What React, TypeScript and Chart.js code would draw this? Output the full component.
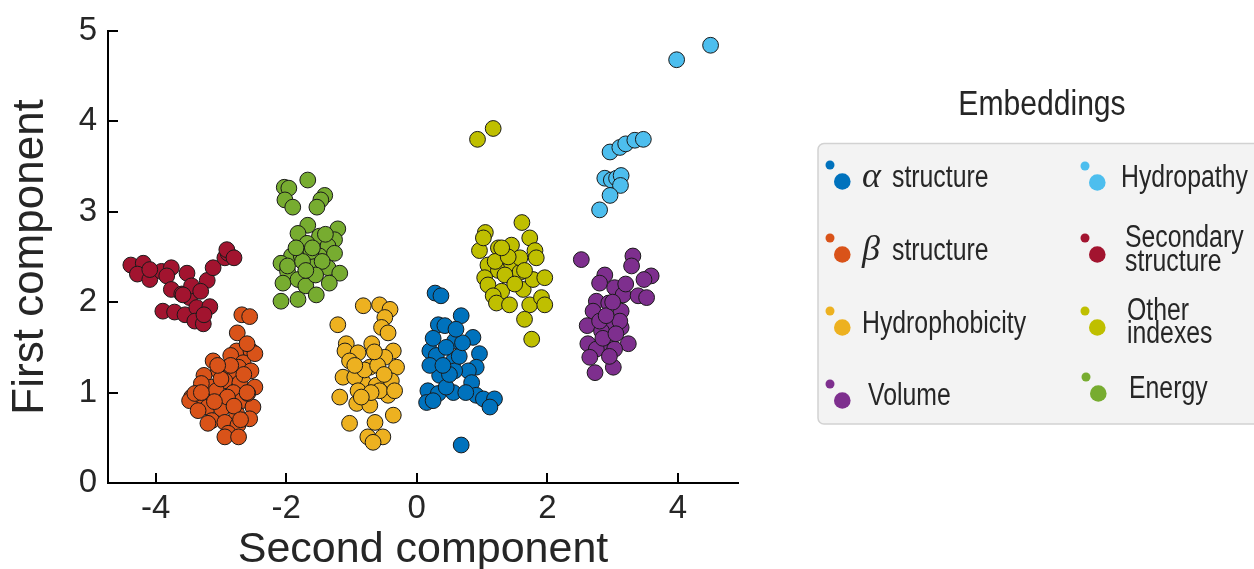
import React, { useEffect, useRef } from "react";
import { Chart, registerables } from "chart.js";

Chart.register(...registerables);

const AXIS_FONT = "'Liberation Sans', Arial, sans-serif";
const LEGEND_FONT = "'Liberation Sans', Arial, sans-serif";
const TEXT = "#262626";

const seriesNames = [
  "α structure",
  "β structure",
  "Hydrophobicity",
  "Volume",
  "Hydropathy",
  "Secondary structure",
  "Other indexes",
  "Energy",
];
const seriesColors = ["#0072BD", "#D95319", "#EDB120", "#7E2F8E", "#4DBEEE", "#A2142F", "#BFBF00", "#77AC30"];

const xTicks = [-4, -2, 0, 2, 4];
const yTicks = [0, 1, 2, 3, 4, 5];

const alphaX = [0.28, 0.37, 0.68, 0.33, 0.43, 0.58, 0.86, 0.2, 0.3, 0.56, 0.96, 0.91, 0.79, 0.35, 0.2, 0.58, 0.84, 0.17, 0.33, 0.56, 0.91, 0.15, 1.02, 1.19, 1.12, 0.45, 0.68, 0.25, 0.45, 0.65, 0.5, 0.7, 0.4, 0.75, 0.25, 0.6];
const alphaY = [2.1, 2.07, 1.85, 1.75, 1.74, 1.57, 1.61, 1.46, 1.41, 1.35, 1.43, 1.28, 1.24, 1.19, 1.3, 1.24, 1.11, 1.02, 0.99, 1.0, 0.97, 0.89, 0.93, 0.93, 0.84, 1.06, 0.42, 0.91, 1.5, 1.4, 1.2, 1.55, 1.3, 1.0, 1.6, 1.7];

const betaX = [-2.68, -2.56, -2.75, -2.76, -2.54, -2.85, -2.66, -2.48, -3.12, -3.04, -2.73, -2.54, -3.26, -2.84, -2.94, -3.14, -3.3, -2.71, -2.48, -2.81, -3.45, -3.48, -3.27, -3.07, -3.2, -2.94, -2.68, -2.51, -2.99, -2.76, -2.56, -3.14, -2.94, -2.74, -2.89, -2.94, -2.73, -3.35, -3.2, -3.4, -2.59, -2.6, -3.0, -2.85, -2.9, -3.1, -2.65, -2.8, -3.05, -2.6, -2.7, -3.3];
const betaY = [1.86, 1.84, 1.66, 1.46, 1.46, 1.41, 1.33, 1.43, 1.35, 1.24, 1.28, 1.24, 1.19, 1.21, 1.13, 1.06, 1.1, 1.11, 1.06, 1.0, 0.95, 0.91, 0.95, 1.02, 0.84, 0.91, 0.91, 0.84, 0.82, 0.77, 0.71, 0.69, 0.67, 0.64, 0.55, 0.51, 0.51, 0.8, 0.66, 0.99, 0.99, 1.54, 1.15, 1.3, 0.95, 0.9, 1.2, 0.85, 1.3, 1.0, 0.7, 1.0];

const hydrophobX = [-1.21, -0.82, -0.57, -0.41, -0.49, -0.54, -0.44, -1.08, -0.69, -0.36, -1.1, -0.9, -1.03, -0.72, -0.49, -0.31, -1.13, -0.82, -0.62, -0.39, -0.95, -1.18, -0.92, -0.72, -0.44, -0.57, -1.03, -0.64, -0.36, -0.75, -0.52, -0.67, -0.9, -0.34, -0.8, -0.6, -0.95, -0.7, -0.5, -0.85, -0.65];
const hydrophobY = [1.75, 1.96, 1.97, 1.92, 1.83, 1.72, 1.66, 1.54, 1.54, 1.46, 1.46, 1.44, 1.35, 1.28, 1.39, 1.28, 1.17, 1.11, 1.08, 1.13, 1.17, 0.95, 0.88, 0.86, 0.97, 1.02, 0.66, 0.67, 0.75, 0.51, 0.51, 0.45, 1.02, 1.02, 1.25, 1.3, 1.3, 1.0, 1.2, 0.95, 1.45];

const volumeX = [2.52, 3.31, 3.29, 3.59, 3.48, 2.88, 2.8, 3.03, 3.16, 3.39, 3.52, 2.75, 2.94, 2.7, 3.13, 2.61, 2.98, 3.13, 2.83, 3.24, 2.62, 2.9, 2.75, 3.03, 2.65, 3.01, 2.73, 3.11, 2.8, 2.9, 3.0, 2.85, 3.05, 2.95, 3.2];
const volumeY = [2.47, 2.51, 2.4, 2.29, 2.25, 2.3, 2.21, 2.16, 2.08, 2.07, 2.05, 2.01, 1.99, 1.9, 1.9, 1.74, 1.75, 1.72, 1.68, 1.54, 1.54, 1.55, 1.48, 1.48, 1.39, 1.28, 1.22, 1.79, 1.79, 1.85, 2.0, 1.6, 1.65, 1.4, 2.2];

const hydropathyX = [3.98, 4.5, 2.96, 3.11, 3.2, 3.34, 3.47, 2.88, 2.98, 3.06, 3.13, 3.12, 2.96, 2.8];
const hydropathyY = [4.68, 4.84, 3.66, 3.71, 3.75, 3.79, 3.8, 3.37, 3.35, 3.37, 3.4, 3.29, 3.18, 3.02];

const secondaryX = [-4.38, -4.19, -4.28, -4.09, -3.91, -3.76, -3.83, -3.52, -3.76, -3.6, -3.48, -3.45, -3.21, -3.12, -2.94, -2.89, -2.91, -3.89, -3.71, -3.55, -3.37, -3.17, -3.4, -3.27, -3.26, -3.58, -4.09, -3.31, -2.8];
const secondaryY = [2.41, 2.43, 2.31, 2.25, 2.34, 2.38, 2.29, 2.32, 2.14, 2.09, 2.05, 2.18, 2.24, 2.38, 2.49, 2.54, 2.58, 1.9, 1.89, 1.86, 1.94, 1.95, 1.79, 1.76, 1.86, 2.08, 2.36, 2.12, 2.49];

const otherX = [0.93, 1.17, 1.61, 1.73, 1.05, 0.96, 1.25, 1.45, 1.81, 1.09, 1.25, 1.45, 1.58, 1.83, 1.04, 1.09, 1.3, 1.63, 1.78, 1.96, 1.17, 1.22, 1.42, 1.73, 1.91, 1.96, 1.65, 1.76, 1.02, 1.58, 1.35, 1.5, 1.2, 1.4, 1.65, 1.3];
const otherY = [3.8, 3.92, 2.88, 2.71, 2.77, 2.57, 2.6, 2.63, 2.57, 2.41, 2.35, 2.43, 2.33, 2.49, 2.27, 2.19, 2.12, 2.14, 2.25, 2.27, 2.07, 1.99, 1.97, 1.97, 2.05, 1.97, 1.81, 1.59, 2.71, 2.49, 2.3, 2.2, 2.45, 2.5, 2.35, 2.6];

const energyX = [-2.03, -1.96, -1.67, -1.41, -1.47, -2.02, -1.9, -1.53, -1.21, -1.67, -1.82, -1.49, -1.26, -1.68, -1.36, -1.92, -2.08, -1.77, -1.49, -1.26, -1.62, -1.98, -1.36, -1.18, -2.05, -1.82, -1.7, -1.34, -2.08, -1.82, -1.54, -1.98, -1.62, -1.6, -1.75, -1.45, -1.55, -1.85, -1.4, -1.7];
const energyY = [3.27, 3.26, 3.35, 3.18, 3.13, 3.13, 3.05, 3.05, 2.81, 2.85, 2.76, 2.73, 2.69, 2.65, 2.62, 2.51, 2.43, 2.51, 2.51, 2.54, 2.4, 2.34, 2.38, 2.32, 2.21, 2.25, 2.18, 2.21, 2.01, 2.03, 2.08, 2.4, 2.56, 2.6, 2.45, 2.45, 2.3, 2.6, 2.75, 2.35];

const seriesX = [alphaX, betaX, hydrophobX, volumeX, hydropathyX, secondaryX, otherX, energyX];
const seriesY = [alphaY, betaY, hydrophobY, volumeY, hydropathyY, secondaryY, otherY, energyY];

// legend layout (positions only)
const legendLayout = [
  { s: 0, dx: 830, dy: 165, tx: 862, greek: "α", rest: "structure", lines: [187] },
  { s: 1, dx: 830, dy: 238, tx: 862, greek: "β", rest: "structure", lines: [260] },
  { s: 2, dx: 830, dy: 311, tx: 862, lines: [333] },
  { s: 3, dx: 830, dy: 384, tx: 868, lines: [405] },
  { s: 4, dx: 1085, dy: 166, tx: 1121, lines: [187] },
  { s: 5, dx: 1085, dy: 238, tx: 1125, lines: [247, 271] },
  { s: 6, dx: 1085, dy: 311, tx: 1127, lines: [320, 343] },
  { s: 7, dx: 1086, dy: 377, tx: 1129, lines: [398] },
];

function drawText(ctx: CanvasRenderingContext2D, text: string, x: number, y: number, font: string, sx: number, align: CanvasTextAlign = "left") {
  ctx.save();
  ctx.font = font;
  ctx.textAlign = align;
  ctx.textBaseline = "alphabetic";
  ctx.translate(x, y);
  ctx.scale(sx, 1);
  ctx.fillText(text, 0, 0);
  ctx.restore();
}

const inwardTicks = {
  id: "inwardTicks",
  afterDatasetsDraw(chart: any) {
    const { ctx, chartArea, scales } = chart;
    ctx.save();
    ctx.strokeStyle = "#000";
    ctx.lineWidth = 2;
    for (const v of xTicks) {
      const px = Math.round(scales.x.getPixelForValue(v));
      ctx.beginPath();
      ctx.moveTo(px, chartArea.bottom);
      ctx.lineTo(px, chartArea.bottom - 10);
      ctx.stroke();
    }
    for (const v of yTicks) {
      const py = Math.round(scales.y.getPixelForValue(v));
      ctx.beginPath();
      ctx.moveTo(chartArea.left, py);
      ctx.lineTo(chartArea.left + 10, py);
      ctx.stroke();
    }
    ctx.restore();
  },
};

const legendPlugin = {
  id: "embLegend",
  afterDraw(chart: any) {
    const ctx: CanvasRenderingContext2D = chart.ctx;
    ctx.save();
    const x0 = 818, y0 = 143.5, w = 470, h = 280.5, r = 6;
    ctx.beginPath();
    ctx.moveTo(x0 + r, y0);
    ctx.lineTo(x0 + w - r, y0);
    ctx.arcTo(x0 + w, y0, x0 + w, y0 + r, r);
    ctx.lineTo(x0 + w, y0 + h - r);
    ctx.arcTo(x0 + w, y0 + h, x0 + w - r, y0 + h, r);
    ctx.lineTo(x0 + r, y0 + h);
    ctx.arcTo(x0, y0 + h, x0, y0 + h - r, r);
    ctx.lineTo(x0, y0 + r);
    ctx.arcTo(x0, y0, x0 + r, y0, r);
    ctx.closePath();
    ctx.fillStyle = "#f3f3f3";
    ctx.fill();
    ctx.strokeStyle = "#d2d2d2";
    ctx.lineWidth = 1.5;
    ctx.stroke();

    ctx.fillStyle = TEXT;
    drawText(ctx, "Embeddings", 1042, 115, `35px ${LEGEND_FONT}`, 0.86, "center");

    for (const e of legendLayout) {
      const color = seriesColors[e.s];
      ctx.fillStyle = color;
      ctx.beginPath();
      ctx.arc(e.dx, e.dy, 4.5, 0, Math.PI * 2);
      ctx.fill();
      ctx.beginPath();
      ctx.arc(e.dx + 12.3, e.dy + 16.5, 8.3, 0, Math.PI * 2);
      ctx.fill();
      ctx.fillStyle = TEXT;
      if (e.greek) {
        drawText(ctx, e.greek, e.tx, e.lines[0], `italic 36px 'Liberation Serif', serif`, 1);
        drawText(ctx, e.rest as string, e.tx + 30, e.lines[0], `31px ${LEGEND_FONT}`, 0.8);
      } else {
        const words = seriesNames[e.s].split(" ");
        if (e.lines.length === 2) {
          drawText(ctx, words[0], e.tx, e.lines[0], `31px ${LEGEND_FONT}`, 0.8);
          drawText(ctx, words.slice(1).join(" "), e.tx, e.lines[1], `31px ${LEGEND_FONT}`, 0.8);
        } else {
          drawText(ctx, seriesNames[e.s], e.tx, e.lines[0], `31px ${LEGEND_FONT}`, 0.8);
        }
      }
    }
    ctx.restore();
  },
};

export default function App() {
  const ref = useRef<HTMLCanvasElement>(null);
  useEffect(() => {
    if (!ref.current) return;
    const datasets = seriesNames.map((name, i) => ({
      label: name,
      data: seriesX[i].map((x, k) => ({ x, y: seriesY[i][k] })),
      backgroundColor: seriesColors[i],
      borderColor: "#1a1a1a",
      borderWidth: 1,
      pointRadius: 7.9,
      pointHoverRadius: 7.9,
    }));
    const chart = new Chart(ref.current, {
      type: "scatter",
      data: { datasets },
      plugins: [inwardTicks, legendPlugin],
      options: {
        responsive: false,
        animation: false,
        devicePixelRatio: 1,
        layout: { padding: { left: 0, top: 28, right: 516, bottom: 0 } },
        plugins: { legend: { display: false }, tooltip: { enabled: false } },
        scales: {
          x: {
            type: "linear",
            min: -4.73,
            max: 4.92,
            afterBuildTicks: (s: any) => {
              s.ticks = xTicks.map((v) => ({ value: v }));
            },
            afterFit: (s: any) => {
              s.height = 86;
            },
            grid: { display: false, drawTicks: false },
            border: { display: true, color: "#000", width: 2 },
            ticks: { font: { family: AXIS_FONT, size: 33 }, color: TEXT, padding: 6, maxRotation: 0 },
            title: {
              display: true,
              text: "Second component",
              font: { family: AXIS_FONT, size: 43, lineHeight: 0.9 },
              color: TEXT,
              padding: 0,
            },
          },
          y: {
            type: "linear",
            min: 0,
            max: 5,
            afterBuildTicks: (s: any) => {
              s.ticks = yTicks.map((v) => ({ value: v }));
            },
            afterFit: (s: any) => {
              s.width = 108;
            },
            grid: { display: false, drawTicks: false },
            border: { display: true, color: "#000", width: 2 },
            ticks: { font: { family: AXIS_FONT, size: 33 }, color: TEXT, padding: 11 },
            title: {
              display: true,
              text: "First component",
              font: { family: AXIS_FONT, size: 44, lineHeight: 1.2 },
              color: TEXT,
              padding: { top: 4, bottom: 0 },
            },
          },
        },
      },
    });
    return () => chart.destroy();
  }, []);
  return (
    <div style={{ position: "absolute", left: 0, top: 0, width: 1254, height: 569, background: "#fff" }}>
      <canvas ref={ref} width={1254} height={569} style={{ display: "block" }} />
    </div>
  );
}
